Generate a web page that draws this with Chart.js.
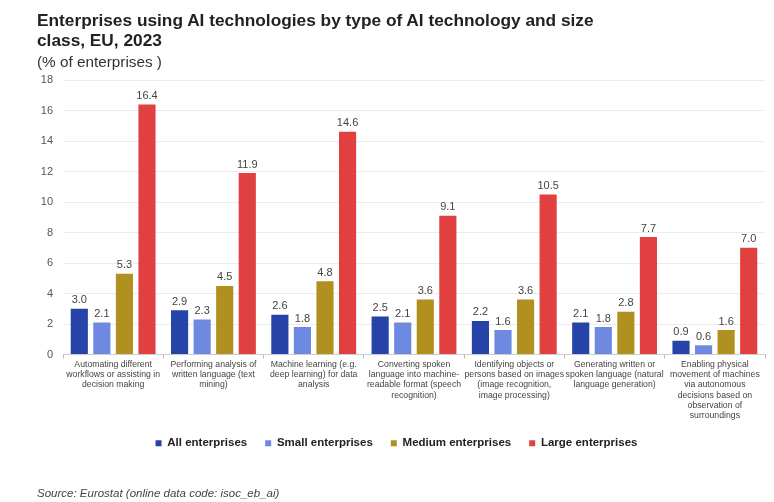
<!DOCTYPE html>
<html>
<head>
<meta charset="utf-8">
<script src="https://cdn.jsdelivr.net/npm/chart.js@4/dist/chart.umd.min.js"></script>
<style>
  html, body { margin: 0; padding: 0; background: #fff; }
  #wrap { position: relative; width: 774px; height: 502px; font-family: "Liberation Sans", Arial, sans-serif; }
  #chart { position: absolute; left: 0; top: 0; }
  .title { position: absolute; left: 37px; top: 10px; font-size: 17.3px; font-weight: bold; line-height: 20px; color: #222; white-space: nowrap; }
  .unit { position: absolute; left: 37px; top: 53px; font-size: 15.3px; line-height: 17px; color: #333; white-space: nowrap; }
  .source { position: absolute; left: 37px; top: 486px; font-size: 11.5px; line-height: 14px; font-style: italic; color: #444; white-space: nowrap; }
</style>
</head>
<body>
<div id="wrap">
  <canvas id="chart" width="774" height="502"></canvas>
  <div class="title">Enterprises using AI technologies by type of AI technology and size<br>class, EU, 2023</div>
  <div class="unit">(% of enterprises )</div>
  <div class="source">Source: Eurostat (online data code: isoc_eb_ai)</div>
</div>
<script>
// Type of AI technology (each label wrapped onto several lines)
const categories = [
  ["Automating different", "workflows or assisting in", "decision making"],
  ["Performing analysis of", "written language (text", "mining)"],
  ["Machine learning (e.g.", "deep learning) for data", "analysis"],
  ["Converting spoken", "language into machine-", "readable format (speech", "recognition)"],
  ["Identifying objects or", "persons based on images", "(image recognition,", "image processing)"],
  ["Generating written or", "spoken language (natural", "language generation)"],
  ["Enabling physical", "movement of machines", "via autonomous", "decisions based on", "observation of", "surroundings"]
];

// % of enterprises, by size class
const allEnterprises    = [3.0, 2.9, 2.6, 2.5, 2.2, 2.1, 0.9];
const smallEnterprises  = [2.1, 2.3, 1.8, 2.1, 1.6, 1.8, 0.6];
const mediumEnterprises = [5.3, 4.5, 4.8, 3.6, 3.6, 2.8, 1.6];
const largeEnterprises  = [16.4, 11.9, 14.6, 9.1, 10.5, 7.7, 7.0];

const seriesNames = ["All enterprises", "Small enterprises", "Medium enterprises", "Large enterprises"];
const yTicks = [0, 2, 4, 6, 8, 10, 12, 14, 16, 18];

const colors = ["#2644A7", "#6E89E0", "#B09120", "#E04040"];
const seriesData = [allEnterprises, smallEnterprises, mediumEnterprises, largeEnterprises];
const fontFamily = "'Liberation Sans', Arial, sans-serif";

// Writes each bar's value above it
const valueLabels = {
  id: "valueLabels",
  afterDatasetsDraw(chart) {
    const ctx = chart.ctx;
    ctx.save();
    ctx.font = "11px " + fontFamily;
    ctx.fillStyle = "#444";
    ctx.textAlign = "center";
    ctx.textBaseline = "bottom";
    chart.data.datasets.forEach((ds, i) => {
      chart.getDatasetMeta(i).data.forEach((bar, j) => {
        ctx.fillText(ds.data[j].toFixed(1), bar.x, bar.y - 3);
      });
    });
    ctx.restore();
  }
};

new Chart(document.getElementById("chart"), {
  type: "bar",
  data: {
    labels: categories,
    datasets: seriesData.map((d, i) => ({
      label: seriesNames[i],
      data: d,
      backgroundColor: colors[i],
      categoryPercentage: 0.9,
      barPercentage: 0.76
    }))
  },
  options: {
    responsive: false,
    animation: false,
    layout: { padding: { top: 80, right: 9, bottom: 43, left: 28 } },
    plugins: {
      legend: {
        position: "bottom",
        labels: {
          boxWidth: 6,
          boxHeight: 6,
          padding: 18,
          color: "#222",
          font: { family: fontFamily, size: 11.5, weight: "bold" }
        }
      },
      tooltip: { enabled: false }
    },
    scales: {
      x: {
        grid: { offset: true, drawOnChartArea: false, tickLength: 4, color: "#bbb" },
        border: { color: "#ccc" },
        ticks: {
          color: "#444",
          maxRotation: 0,
          autoSkip: false,
          padding: 1,
          font: { family: fontFamily, size: 8.7, lineHeight: 1.17 }
        },
        afterFit(scale) {
          scale.height = 65;
          // the six-line label may run past the axis box; let it show in full
          scale._computeLabelArea = () => undefined;
        }
      },
      y: {
        min: 0,
        max: 18,
        afterBuildTicks(scale) { scale.ticks = yTicks.map(v => ({ value: v })); },
        grid: { color: "#ececec", drawTicks: false },
        border: { display: false },
        ticks: {
          color: "#555",
          padding: 10,
          font: { family: fontFamily, size: 11 }
        },
        afterFit(scale) { scale.width = 35; }
      }
    }
  },
  plugins: [valueLabels]
});
</script>
</body>
</html>
